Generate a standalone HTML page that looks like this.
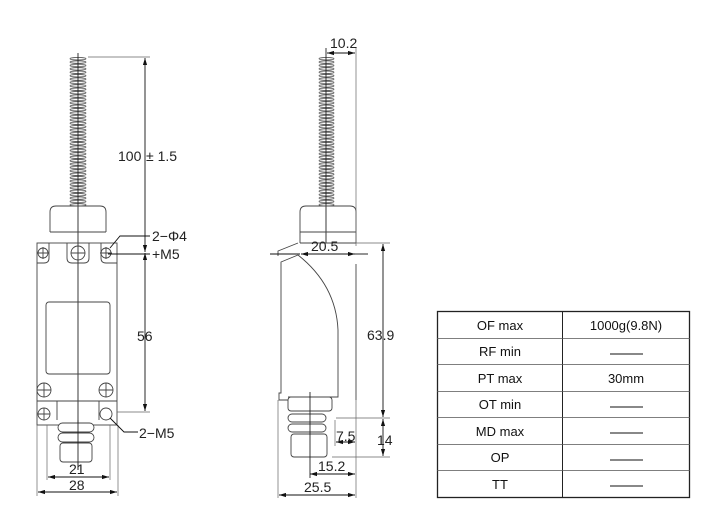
<!DOCTYPE html>
<html><head><meta charset="utf-8"><style>
body{margin:0;background:#fff;width:703px;height:520px;overflow:hidden}
text{font-family:"Liberation Sans",sans-serif;fill:#222}
.t{font-family:"Liberation Sans","Noto Sans CJK KR",sans-serif;font-size:13px;fill:#111}
</style></head><body>
<svg width="703" height="520" xmlns="http://www.w3.org/2000/svg">
<defs>
<pattern id="sp" x="69" y="57" width="18" height="3.4" patternUnits="userSpaceOnUse">
<ellipse cx="9" cy="1.7" rx="8" ry="1.3" fill="none" stroke="#555" stroke-width="0.8"/>
</pattern>
<pattern id="sp2" x="318" y="57" width="17" height="3.4" patternUnits="userSpaceOnUse">
<ellipse cx="8.5" cy="1.7" rx="7.5" ry="1.3" fill="none" stroke="#555" stroke-width="0.8"/>
</pattern>
<marker id="a" viewBox="0 0 10 6" refX="10" refY="3" markerWidth="8" markerHeight="5" orient="auto-start-reverse"><path d="M0,0L10,3L0,6z" fill="#111"/></marker>
</defs>
<g fill="none" stroke="#444" stroke-width="0.9">
<!-- LEFT VIEW -->
<rect x="69" y="57" width="18" height="149" fill="url(#sp)" stroke="none"/>
<line x1="78" y1="53" x2="78" y2="470" stroke="#222"/>
<path d="M50,232 L50,212 Q50,206 56,206 L100,206 Q106,206 106,212 L106,232"/>
<line x1="50" y1="232" x2="106" y2="232"/>
<rect x="37" y="243" width="80" height="182"/>
<path d="M49,243 L49,258 Q49,263 44,263 L37,263"/>
<path d="M67,243 L67,258 Q67,263 72,263 L84,263 Q89,263 89,258 L89,243"/>
<path d="M101,243 L101,258 Q101,263 106,263 L117,263"/>
<circle cx="43" cy="253" r="5"/><path d="M37,253h12M43,247v12"/>
<circle cx="78" cy="253" r="7"/><path d="M71,253h14M78,246v14"/>
<circle cx="106" cy="253" r="5"/><path d="M100,253h12M106,247v12"/>
<rect x="46" y="302" width="64" height="72" rx="3"/>
<circle cx="44" cy="390" r="7"/><path d="M37,390h14M44,383v14"/>
<circle cx="106" cy="390" r="7"/><path d="M99,390h14M106,383v14"/>
<line x1="37" y1="401" x2="117" y2="401"/>
<circle cx="44" cy="414" r="6"/><path d="M38,414h12M44,408v12"/>
<circle cx="106" cy="414" r="6"/>
<path d="M57,401 L57,420 M99,401 L99,420"/>
<rect x="58" y="423" width="36" height="9" rx="4.5" fill="#fff"/>
<rect x="58" y="433" width="36" height="9" rx="4.5" fill="#fff"/>
<rect x="60" y="443" width="32" height="19" rx="3" fill="#fff"/>
<line x1="78" y1="420" x2="78" y2="470" stroke="#222"/>
<!-- left dims -->
<path d="M88,57 H150 M117,412 H150 M47,425 V480 M110,425 V480 M37,425 V496 M118,425 V496" stroke="#666" stroke-width="0.7"/>
<line x1="145" y1="58" x2="145" y2="242" stroke="#111" marker-start="url(#a)"/>
<line x1="145" y1="242" x2="145" y2="252" stroke="#111" marker-end="url(#a)"/>
<line x1="145" y1="253" x2="145" y2="411" stroke="#111" marker-start="url(#a)" marker-end="url(#a)"/>
<line x1="48" y1="477" x2="109" y2="477" stroke="#111" marker-start="url(#a)" marker-end="url(#a)"/>
<line x1="38" y1="492" x2="117" y2="492" stroke="#111" marker-start="url(#a)" marker-end="url(#a)"/>
<path d="M110,248 L120,236 H150" stroke="#111"/>
<path d="M108,254 H150" stroke="#111"/>
<path d="M110,418 L124,432 H138" stroke="#111"/>
<!-- SIDE VIEW -->
<rect x="318" y="57" width="17" height="149" fill="url(#sp2)" stroke="none"/>
<line x1="326" y1="48" x2="326" y2="243" stroke="#222"/>
<path d="M300,243 L300,212 Q300,206 306,206 L350,206 Q356,206 356,212 L356,243"/>
<line x1="300" y1="232" x2="356" y2="232"/>
<line x1="300" y1="243" x2="356" y2="243"/>
<path d="M298,243 L278,251 L278,256"/>
<path d="M298,255 L281,262 L281,393 L279,393 L279,400 L288,400"/>
<path d="M298,255 Q336,285 338,330 L338,397 L288,397"/>
<line x1="356" y1="264" x2="356" y2="400"/>
<rect x="288" y="397" width="44" height="14" rx="3"/>
<rect x="288" y="414" width="38" height="8" rx="4"/>
<rect x="288" y="424" width="38" height="8" rx="4"/>
<rect x="291" y="434" width="36" height="23" rx="3"/>
<line x1="310" y1="392" x2="310" y2="478" stroke="#222"/>
<!-- side dims -->
<path d="M356,48 V246 M356,243 H390 M336,418 H390 M332,457 H390 M335,420 V446 M356,400 V498 M278,400 V498" stroke="#666" stroke-width="0.7"/>
<line x1="327" y1="53" x2="355" y2="53" stroke="#111" marker-start="url(#a)" marker-end="url(#a)"/>
<line x1="270" y1="254" x2="300" y2="254" stroke="#111"/>
<line x1="301" y1="254" x2="355" y2="254" stroke="#111" marker-start="url(#a)" marker-end="url(#a)"/>
<line x1="355" y1="254" x2="368" y2="254" stroke="#111"/>
<line x1="383" y1="244" x2="383" y2="417" stroke="#111" marker-start="url(#a)" marker-end="url(#a)"/>
<line x1="383" y1="419" x2="383" y2="456" stroke="#111" marker-start="url(#a)" marker-end="url(#a)"/>
<line x1="336" y1="442" x2="355" y2="442" stroke="#111" marker-start="url(#a)" marker-end="url(#a)"/>
<line x1="310" y1="474" x2="355" y2="474" stroke="#111" marker-start="url(#a)" marker-end="url(#a)"/>
<line x1="279" y1="495" x2="355" y2="495" stroke="#111" marker-start="url(#a)" marker-end="url(#a)"/>
</g>
<g font-size="14">
<text x="118" y="161">100</text><text x="146" y="161">± 1.5</text>
<text x="137" y="341">56</text>
<text x="152" y="241">2−Φ4</text>
<text x="152" y="259">+M5</text>
<text x="139" y="438">2−M5</text>
<text x="69" y="474">21</text>
<text x="69" y="490">28</text>
<text x="330" y="48">10.2</text>
<text x="311" y="251">20.5</text>
<text x="367" y="340">63.9</text>
<text x="377" y="445">14</text>
<text x="336" y="441">7.5</text>
<text x="318" y="471">15.2</text>
<text x="304" y="492">25.5</text>
</g>
<!-- TABLE -->
<g stroke="#222" fill="none">
<rect x="437.5" y="311.5" width="252" height="186" stroke-width="1.3"/>
<line x1="562.5" y1="311" x2="562.5" y2="497"/>
<path d="M437,338.5H690M437,364.5H690M437,391.5H690M437,417.5H690M437,444.5H690M437,470.5H690" stroke="#555" stroke-width="0.8"/>
<path d="M610,354H643M610,407H643M610,433H643M610,460H643M610,486H643" stroke="#111"/>
</g>
<g class="t" text-anchor="middle">
<text class="t" x="500" y="330">OF max</text>
<text class="t" x="626" y="330">1000g(9.8N)</text>
<text class="t" x="500" y="356">RF min</text>
<text class="t" x="500" y="383">PT max</text>
<text class="t" x="626" y="383">30mm</text>
<text class="t" x="500" y="409">OT min</text>
<text class="t" x="500" y="436">MD max</text>
<text class="t" x="500" y="462">OP</text>
<text class="t" x="500" y="489">TT</text>
</g>
</svg>
</body></html>
